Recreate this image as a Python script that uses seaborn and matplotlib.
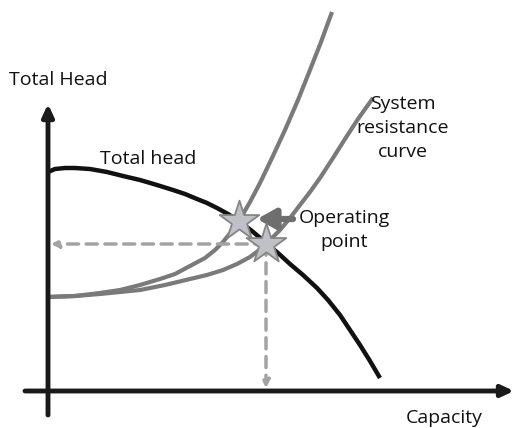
import matplotlib
matplotlib.use("Agg")
import matplotlib.pyplot as plt
import seaborn as sns
import pandas as pd

# ---- data (capacity Q, head H in arbitrary schematic units) ----
pump_q = [0, 7, 17, 27, 42, 59, 75, 92, 109, 125, 137, 149, 159, 169, 180, 191, 204, 218,
          230, 242, 255, 269, 280, 292, 302, 312, 322, 332]
pump_h = [219, 222, 223, 223, 222, 219, 215, 211, 206, 201, 197, 192, 188, 183, 177, 170, 160, 148,
          138, 127, 116, 103, 91, 76, 61, 46, 30, 13]

sys1_q = [0, 27, 52, 72, 92, 112, 127, 142, 157, 167, 175, 183, 191, 202, 212, 224, 237, 250, 262, 273, 284]
sys1_h = [94, 95, 98, 101, 106, 112, 117, 125, 133, 141, 149, 159, 170, 189, 208, 233, 261, 291, 321, 349, 379]

sys2_q = [0, 27, 52, 72, 92, 117, 142, 159, 175, 189, 202, 210, 218, 232, 242, 252, 262, 272, 285, 297, 310, 325]
sys2_h = [94, 95, 97, 99, 101, 106, 112, 116, 121, 127, 134, 140, 147, 161, 173, 186, 199, 213, 233, 252, 272, 293]

op_q = [191, 218]
op_h = [170, 147]

sns.set_theme(style="white")
plt.rcParams['font.family'] = ['Open Sans', 'DejaVu Sans']

fig = plt.figure(figsize=(5.15, 4.28), dpi=100)
ax = fig.add_axes([0, 0, 1, 1])
ax.set_xlim(-48, 467)
ax.set_ylim(-37, 391)
ax.axis('off')

# axes with arrows
ax_arrow = dict(arrowstyle='-|>,head_length=0.6,head_width=0.28', color='#1a1a1a', lw=3.5,
                shrinkA=0, shrinkB=0)
ax.annotate('', xy=(466, 0), xytext=(-23, 0), arrowprops=ax_arrow)
ax.annotate('', xy=(0, 287), xytext=(0, -24), arrowprops=ax_arrow)

gray = '#7a7a7b'
df1 = pd.DataFrame({'Q': sys1_q, 'H': sys1_h})
df2 = pd.DataFrame({'Q': sys2_q, 'H': sys2_h})
dfp = pd.DataFrame({'Q': pump_q, 'H': pump_h})
kw = dict(sort=False, solid_joinstyle='round', solid_capstyle='butt', ax=ax)
sns.lineplot(data=df1, x='Q', y='H', color=gray, lw=3, **kw)
sns.lineplot(data=df2, x='Q', y='H', color=gray, lw=3, **kw)
sns.lineplot(data=dfp, x='Q', y='H', color='#111111', lw=3.2, **kw)

# dashed guide lines from the lower operating point
dash_c = '#a3a3a3'
dash_arrow = dict(arrowstyle='-|>,head_length=0.35,head_width=0.18', color=dash_c, lw=2.5,
                  linestyle=(0, (3.2, 2.2)), shrinkA=0, shrinkB=0)
ax.annotate('', xy=(3, op_h[1]), xytext=(op_q[1], op_h[1]), arrowprops=dash_arrow)
ax.annotate('', xy=(op_q[1], 3), xytext=(op_q[1], op_h[1]), arrowprops=dash_arrow)

# shift arrow
ax.annotate('', xy=(op_q[0] + 18, op_h[0] + 2), xytext=(op_q[0] + 54, op_h[0] + 2),
            arrowprops=dict(arrowstyle='-|>,head_length=0.9,head_width=0.5', color='#6e6e6e', lw=4.5,
                            shrinkA=0, shrinkB=0))

# operating point stars
dfo = pd.DataFrame({'Q': op_q, 'H': op_h})
sns.scatterplot(data=dfo, x='Q', y='H', marker='*', s=900, color='#c0c1c5',
                edgecolor='#858585', linewidth=1.3, zorder=5, ax=ax)

fs = 14
ax.text(10, 311, 'Total Head', fontsize=fs, ha='center', va='center', color='#111111')
ax.text(100, 232, 'Total head', fontsize=fs, ha='center', va='center', color='#111111')
ax.text(355, 263, 'System\nresistance\ncurve', fontsize=fs, ha='center', va='center',
        linespacing=1.4, color='#111111')
ax.text(296, 161, 'Operating\npoint', fontsize=fs, ha='center', va='center',
        linespacing=1.4, color='#111111')
ax.text(396, -27, 'Capacity', fontsize=fs, ha='center', va='center', color='#111111')

ax.set_xlabel('')
ax.set_ylabel('')
fig.savefig('out.png', dpi=100)
